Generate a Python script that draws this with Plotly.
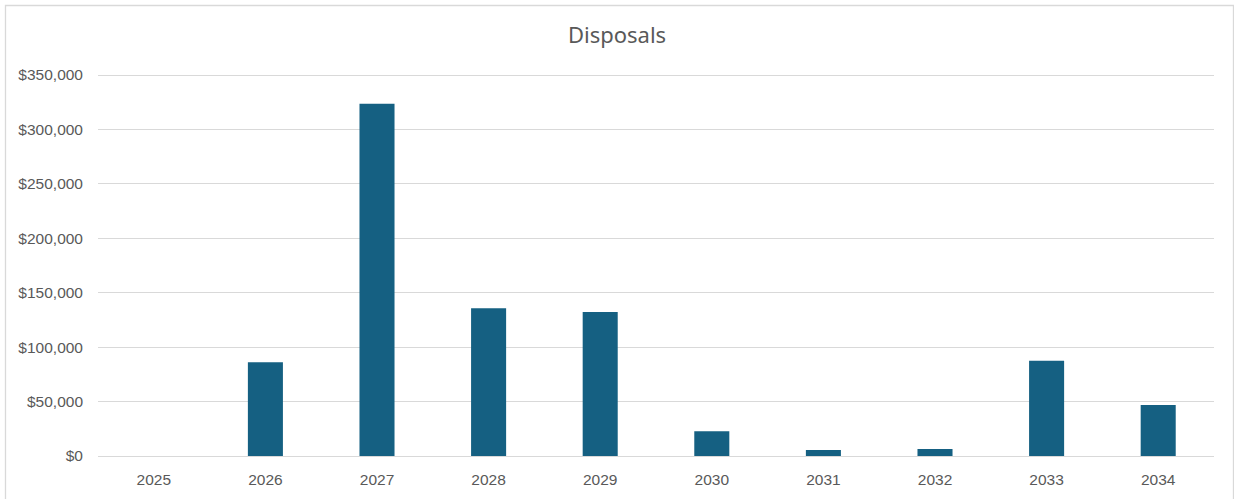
import plotly.graph_objects as go

# Annual disposal amounts (USD)
years = ["2025", "2026", "2027", "2028", "2029", "2030", "2031", "2032", "2033", "2034"]
disposals = [0, 86100, 323500, 135700, 132300, 22700, 5500, 6400, 87600, 46900]
y_ticks = [0, 50000, 100000, 150000, 200000, 250000, 300000, 350000]
y_tick_text = ["$0", "$50,000", "$100,000", "$150,000", "$200,000", "$250,000", "$300,000", "$350,000"]

W, H = 1234, 499
L, R, T, B = 98, 20, 73, 43
plot_w = W - L - R
plot_h = H - T - B
# leave a couple of pixels above the top gridline so it is drawn
y_top = 350000 * plot_h / (plot_h - 2)

BAR = "#156082"
TEXT = "#595959"
GRID = "#d9d9d9"

fig = go.Figure(
    go.Bar(x=years, y=disposals, marker=dict(color=BAR, line=dict(width=0)),
           hoverinfo="x+y")
)

# light chart-area frame (left, top, right edges; bottom runs past the page)
def px_to_paper_x(px):
    return (px - L) / plot_w

def px_to_paper_y(py):
    return (H - B - py) / plot_h

fig.add_shape(type="rect", xref="paper", yref="paper",
              x0=px_to_paper_x(5.5), x1=px_to_paper_x(1233.5),
              y0=px_to_paper_y(520), y1=px_to_paper_y(5.5),
              line=dict(color=GRID, width=1.3), fillcolor="rgba(0,0,0,0)", layer="below")

fig.update_layout(
    width=W, height=H,
    margin=dict(l=L, r=R, t=T, b=B),
    paper_bgcolor="white", plot_bgcolor="white",
    bargap=0.686,
    showlegend=False,
    font=dict(family="Liberation Sans, Arial, sans-serif", size=15.5, color=TEXT),
    title=dict(text="Disposals", x=0.5, xref="container", xanchor="center",
               y=1 - 35 / H, yref="container", yanchor="middle",
               font=dict(family="Noto Sans, sans-serif", size=22, color=TEXT)),
    xaxis=dict(showgrid=False, showline=False, zeroline=False, ticks="",
               ticklabelstandoff=12, tickfont=dict(size=15.5, color=TEXT)),
    yaxis=dict(range=[0, y_top], tickvals=y_ticks, ticktext=y_tick_text,
               showgrid=True, gridcolor=GRID, gridwidth=1.3,
               zeroline=True, zerolinecolor=GRID, zerolinewidth=1.3,
               showline=False, ticks="", ticklabelstandoff=14,
               tickfont=dict(size=15.5, color=TEXT)),
)

fig.write_html("out.html")
